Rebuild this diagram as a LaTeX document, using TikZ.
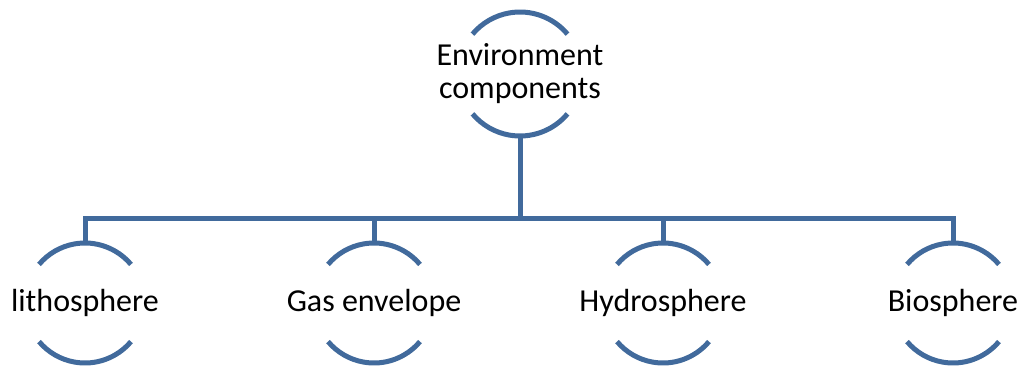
\documentclass[tikz,border=0pt]{standalone}
\usepackage{fontspec}
\setmainfont{Carlito}
\definecolor{envblue}{HTML}{416A9C}
\usetikzlibrary{positioning}

\begin{document}
\begin{tikzpicture}[x=1pt,y=-1pt,
  sphere/.style={align=center,inner sep=0pt,outer sep=0pt,
    font=\fontsize{32}{33}\selectfont,minimum height=120pt},
  ring/.style={envblue,line width=5pt},
  branch/.style={envblue,line width=5pt,line join=miter}]
  \useasboundingbox (0,0) rectangle (1021,367);
  \node[sphere,minimum height=124pt] (top)   at (520,74)  {Environment\\components};
  \node[sphere] (litho) at (85,303)  {lithosphere};
  \node[sphere] (gas)   at (374,303) {Gas envelope};
  \node[sphere] (hydro) at (663,303) {Hydrosphere};
  \node[sphere] (bio)   at (953,303) {Biosphere};
  \coordinate (bus) at (520,218);
  % open rings round the texts
  \foreach \n/\r in {top/62,litho/60,gas/60,hydro/60,bio/60}
    \draw[ring] (\n.center) ++(-40:\r) arc[start angle=-40,end angle=-140,radius=\r]
                (\n.center) ++(40:\r) arc[start angle=40,end angle=140,radius=\r];
  \draw[branch] (top.south) -- (bus);
  \draw[branch] (litho.north) -- (litho.north |- bus) -- (bio.north |- bus) -- (bio.north);
  \draw[branch] (gas.north) -- (gas.north |- bus);
  \draw[branch] (hydro.north) -- (hydro.north |- bus);
\end{tikzpicture}
\end{document}
